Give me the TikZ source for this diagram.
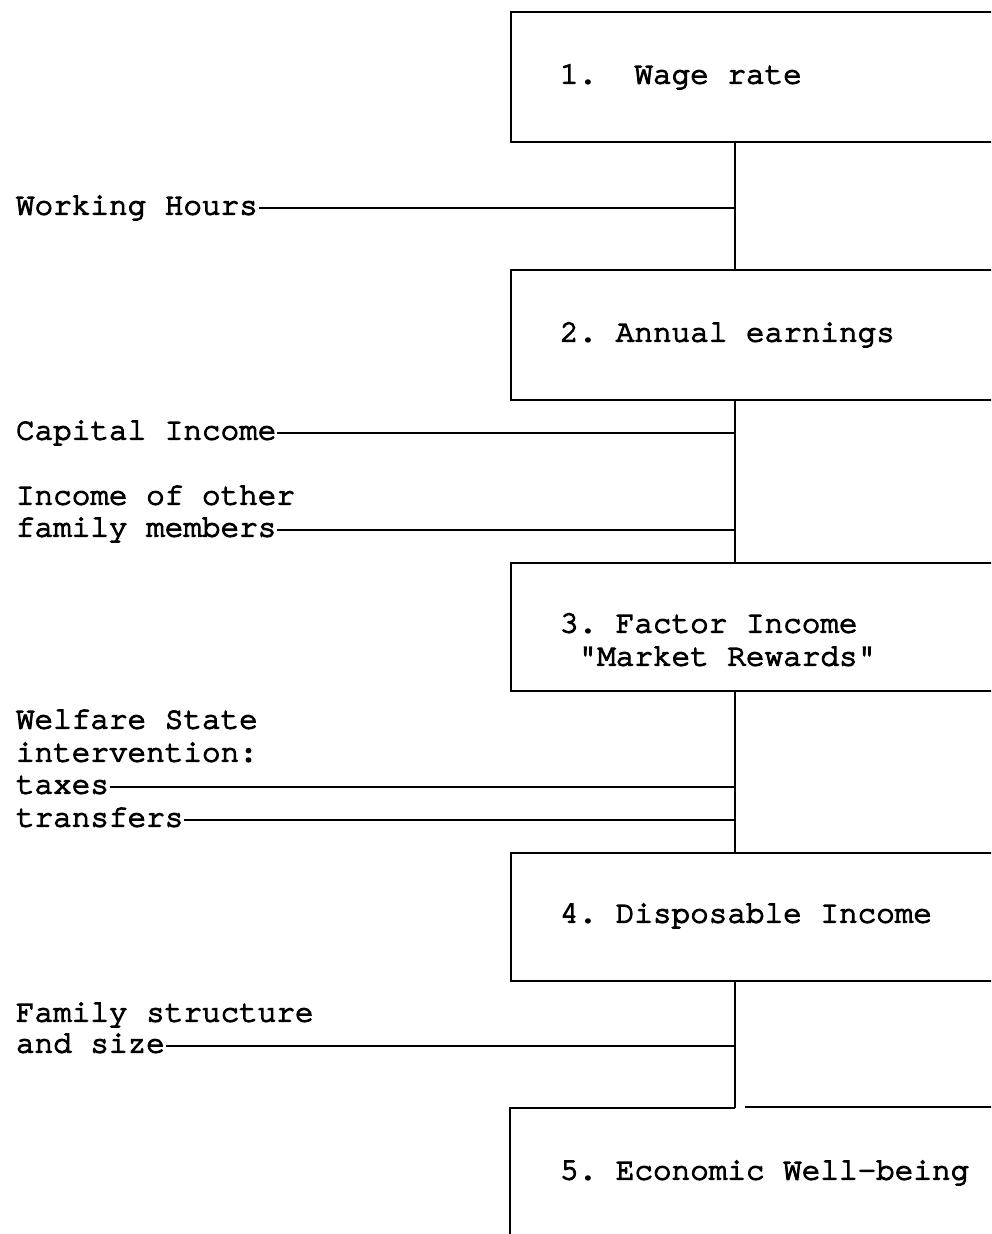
\documentclass[tikz,border=0pt]{standalone}
\usepackage{fontspec}
\newfontfamily\typew{TeX Gyre Cursor}[FakeBold=4]
\begin{document}
\begin{tikzpicture}[x=1pt,y=-1pt, line width=2pt,
  txt/.style={font=\fontsize{31}{33}\selectfont\typew\frenchspacing, anchor=west, inner sep=0pt, text height=13pt, text depth=0pt},
  stagebox/.style={draw, rectangle, inner sep=0pt, minimum width=520pt, anchor=north west}]
\useasboundingbox (0,0) rectangle (991,1234);
\clip (0,0) rectangle (991,1234);
\fill[white] (0,0) rectangle (991,1234);
\coordinate (sp) at (735,0);
% stage boxes
\node[stagebox, minimum height=130pt] (b1) at (510,11) {};
\node[stagebox, minimum height=130pt] (b2) at (510,269) {};
\node[stagebox, minimum height=128pt] (b3) at (510,562) {};
\node[stagebox, minimum height=128pt] (b4) at (510,852) {};
\coordinate (b5tl) at (510,1108);
\coordinate (b5bl) at (510,1240);
\coordinate (b5tr0) at (745,1107);
\coordinate (b5tr1) at (1010,1107);
\draw (b5bl) -- (b5tl) -- (b5tl -| sp);
\draw (b5tr0) -- (b5tr1);
% box texts
\node[txt] (t1) at (559,77) {1.\ \ Wage rate};
\node[txt] (t2) at (559,335) {2. Annual earnings};
\node[txt] (t3a) at (559,626) {3. Factor Income};
\node[txt] (t3b) at (559,659) {\phantom{x}"Market Rewards"};
\node[txt] (t4) at (559,916) {4. Disposable Income};
\node[txt] (t5) at (559,1173) {5. Economic Well-being};
% spine
\draw (b1.south -| sp) -- (b2.north -| sp);
\draw (b2.south -| sp) -- (b3.north -| sp);
\draw (b3.south -| sp) -- (b4.north -| sp);
\draw (b4.south -| sp) -- (b5tl -| sp);
% side factors
\node[txt] (wh) at (15,208) {Working Hours};
\node[txt] (ci) at (15,433) {Capital Income};
\node[txt] (io) at (15,498) {Income of other};
\node[txt] (fm) at (15,530) {family members};
\node[txt] (ws) at (15,722) {Welfare State};
\node[txt] (iv) at (15,755) {intervention:};
\node[txt] (tx) at (15,787) {taxes};
\node[txt] (tr) at (15,820) {transfers};
\node[txt] (fs) at (15,1015) {Family structure};
\node[txt] (as) at (15,1046) {and size};
\draw (wh.east) -- (wh.east -| sp);
\draw (ci.east) -- (ci.east -| sp);
\draw (fm.east) -- (fm.east -| sp);
\draw (tx.east) -- (tx.east -| sp);
\draw (tr.east) -- (tr.east -| sp);
\draw (as.east) -- (as.east -| sp);
\end{tikzpicture}
\end{document}
